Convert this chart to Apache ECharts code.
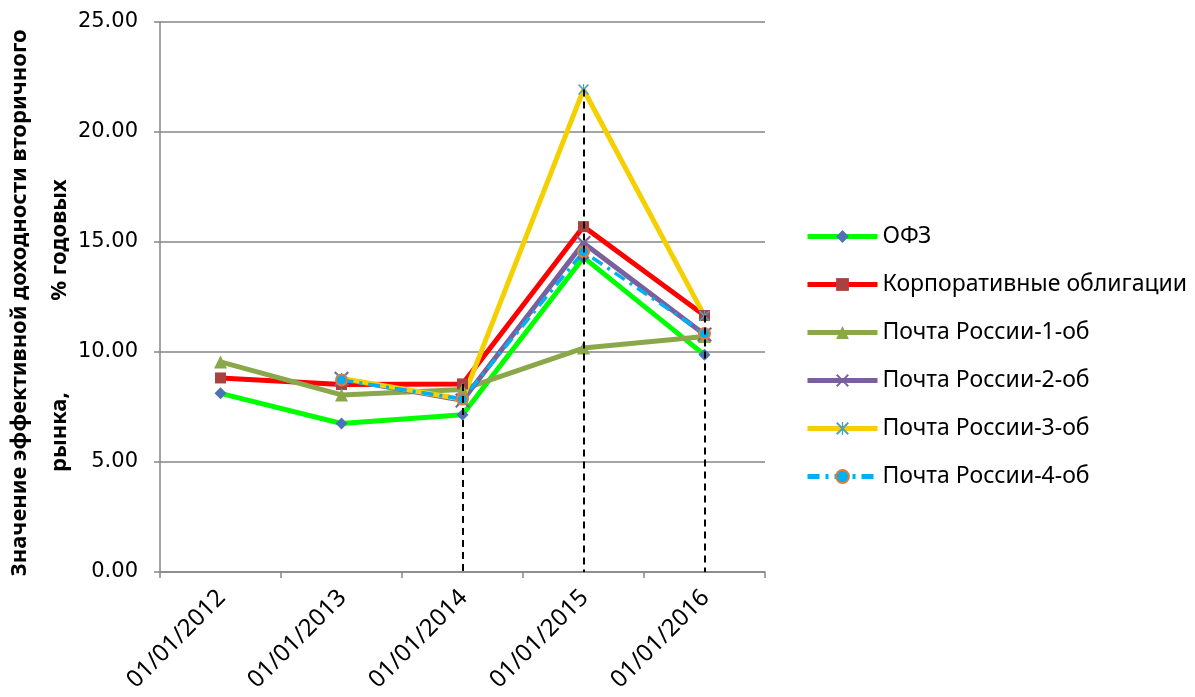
<!DOCTYPE html>
<html>
<head>
<meta charset="utf-8">
<script src="https://cdn.jsdelivr.net/npm/echarts@6/dist/echarts.min.js"></script>
<style>
  html, body { margin: 0; padding: 0; background: #fff; }
  #chart { width: 1195px; height: 697px; }
</style>
</head>
<body>
<div id="chart"></div>
<script>
// категории и значения (% годовых)
const categories = ["01/01/2012", "01/01/2013", "01/01/2014", "01/01/2015", "01/01/2016"];
const ofz = [8.12, 6.75, 7.15, 14.3, 9.87];
const corp = [8.82, 8.52, 8.55, 15.7, 11.66];
const post1 = [9.55, 8.05, 8.3, 10.18, 10.7];
const post2 = [null, 8.78, 7.8, 14.95, 10.8];
const post3 = [null, 8.8, 7.85, 21.93, 11.64];
const post4 = [null, 8.73, 7.86, 14.56, 10.84];
// категории с вертикальными линиями проекции
const dropCats = ["01/01/2014", "01/01/2015", "01/01/2016"];

const crossPath = "path://M0,1 L1,0 L5,4 L9,0 L10,1 L6,5 L10,9 L9,10 L5,6 L1,10 L0,9 L4,5 Z";
const starPath = "path://M0,1 L1,0 L4.5,3.5 L4.5,0 L5.5,0 L5.5,3.5 L9,0 L10,1 L6,5 L10,9 L9,10 L5.5,6.5 L5.5,10 L4.5,10 L4.5,6.5 L1,10 L0,9 L4,5 Z";

const allSeries = [ofz, corp, post1, post2, post3, post4];
const dropLines = dropCats.map(cat => {
  const idx = categories.indexOf(cat);
  const top = Math.max(...allSeries.map(s => (s[idx] == null ? 0 : s[idx])));
  return [{ coord: [cat, top] }, { coord: [cat, 0] }];
});

const chart = echarts.init(document.getElementById("chart"));

function lineSeries(name, data, lineColor, symbol, size, markerColor, extra) {
  return Object.assign({
    name: name,
    type: "line",
    data: data,
    symbol: symbol,
    symbolSize: size,
    showAllSymbol: true,
    connectNulls: false,
    animation: false,
    lineStyle: { color: lineColor, width: 5 },
    itemStyle: { color: markerColor, borderWidth: 0 }
  }, extra || {});
}

chart.setOption({
  backgroundColor: "#fff",
  animation: false,
  grid: [
    { left: 160, right: 430, top: 22, bottom: 125, containLabel: false, outerBoundsMode: "none" },
    // только для подписей оси X (сдвиг как в Excel)
    { left: 161, right: 429, top: 22, bottom: 125, containLabel: false, outerBoundsMode: "none" }
  ],
  legend: {
    orient: "vertical",
    left: 805,
    top: 225,
    padding: 0,
    itemWidth: 70,
    itemHeight: 16,
    itemGap: 25,
    lineStyle: { width: 5 },
    textStyle: { fontFamily: "Noto Sans", fontSize: 23, color: "#000", padding: [0, 0, 0, 0] },
    data: ["ОФЗ", "Корпоративные облигации", "Почта России-1-об", "Почта России-2-об", "Почта России-3-об", "Почта России-4-об"]
  },
  xAxis: [
    {
      type: "category",
      data: categories,
      boundaryGap: true,
      axisLine: { lineStyle: { color: "#868686", width: 1.5 } },
      axisTick: { show: true, length: 6, lineStyle: { color: "#868686", width: 1.5 } },
      axisLabel: { show: false }
    },
    {
      type: "category",
      gridIndex: 1,
      data: categories,
      boundaryGap: true,
      axisLine: { show: false },
      axisTick: { show: false },
      axisLabel: {
        rotate: 45,
        margin: 22,
        color: "#000",
        fontFamily: "Noto Sans",
        fontSize: 24
      }
    }
  ],
  yAxis: [
    {
      type: "value",
      min: 0,
      max: 25,
      interval: 5,
      name: "Значение эффективной доходности вторичного  \nрынка,                % годовых          ",
      nameLocation: "middle",
      nameGap: 80,
      nameMoveOverlap: false,
      nameTextStyle: {
        fontFamily: "Noto Sans",
        fontWeight: "bold",
        fontSize: 22,
        color: "#000",
        lineHeight: 40
      },
      axisLine: { show: true, lineStyle: { color: "#868686", width: 1.5 } },
      axisTick: { show: true, length: 6, lineStyle: { color: "#868686", width: 1.5 } },
      axisLabel: {
        color: "#000",
        fontFamily: "DejaVu Sans",
        fontSize: 21,
        margin: 22,
        formatter: v => v.toFixed(2)
      },
      splitLine: { lineStyle: { color: "#868686", width: 1.5 } }
    },
    { type: "value", gridIndex: 1, min: 0, max: 25, show: false }
  ],
  series: [
    lineSeries("ОФЗ", ofz, "#00ff00", "diamond", 12, "#4a75b5"),
    lineSeries("Корпоративные облигации", corp, "#ff0000", "rect", 11, "#a8423f"),
    lineSeries("Почта России-1-об", post1, "#8aa84a", "triangle", 13, "#8aa84a"),
    lineSeries("Почта России-2-об", post2, "#7a5f9e", crossPath, 15, "#7a5f9e"),
    lineSeries("Почта России-3-об", post3, "#f5d000", starPath, 11, "#4aa0c0"),
    lineSeries("Почта России-4-об", post4, "#00b0f0", "circle", 11, "#00b0f0", {
      lineStyle: { color: "#00b0f0", width: 3.5, type: [12, 6, 3, 6] },
      itemStyle: { color: "#00b0f0", borderColor: "#e07b39", borderWidth: 2 },
      markLine: {
        silent: true,
        symbol: "none",
        animation: false,
        label: { show: false },
        lineStyle: { color: "#000", width: 2, type: [7, 5] },
        data: dropLines
      }
    })
  ]
});
</script>
</body>
</html>
